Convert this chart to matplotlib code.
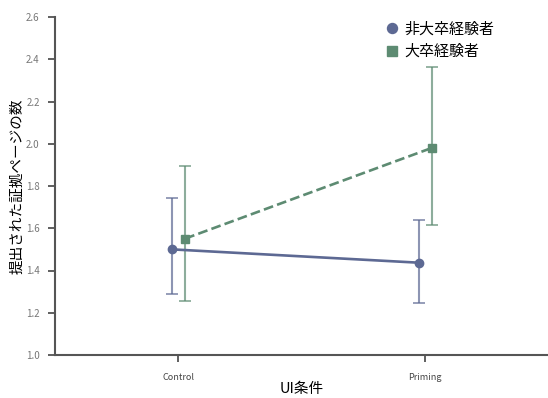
import numpy as np
import matplotlib
matplotlib.use("Agg")
import matplotlib.pyplot as plt

plt.rcParams['font.family'] = ['Noto Sans CJK JP', 'DejaVu Sans']

conditions = ["Control", "Priming"]
groups = ["非大卒経験者", "大卒経験者"]
means = {
    "非大卒経験者": [1.50, 1.437],
    "大卒経験者": [1.551, 1.98],
}
lower = {
    "非大卒経験者": [1.289, 1.248],
    "大卒経験者": [1.256, 1.614],
}
upper = {
    "非大卒経験者": [1.742, 1.640],
    "大卒経験者": [1.895, 2.363],
}

colors = {"非大卒経験者": "#5d6993", "大卒経験者": "#5d8b72"}
markers = {"非大卒経験者": "o", "大卒経験者": "s"}
styles = {"非大卒経験者": "-", "大卒経験者": "--"}
offsets = {"非大卒経験者": -0.025, "大卒経験者": 0.028}

fig = plt.figure(figsize=(5.48, 3.98), dpi=100)
ax = fig.add_axes([55 / 548, 43 / 398, 493 / 548, 338 / 398])

x = np.arange(len(conditions))
for g in groups:
    xs = x + offsets[g]
    m = np.array(means[g])
    err = [m - np.array(lower[g]), np.array(upper[g]) - m]
    ax.errorbar(xs, m, yerr=err, fmt="none", ecolor=colors[g], alpha=0.7,
                elinewidth=1.5, capsize=4, capthick=1.3, zorder=2)
    ax.plot(xs, m, linestyle=styles[g], color=colors[g], lw=1.9, zorder=3)
    ax.plot(xs, m, linestyle="none", marker=markers[g], color=colors[g],
            markersize=6, zorder=4, label=g)

ax.set_xlim(-0.5, 1.5)
ax.set_ylim(1.0, 2.6)
ax.set_xticks(x)
ax.set_xticklabels(conditions, fontsize=6.5, color="#444444")
ax.set_yticks(np.arange(1.0, 2.61, 0.2))
ax.set_yticklabels([f"{v:.1f}" for v in np.arange(1.0, 2.61, 0.2)], fontsize=7, color="#777777")
ax.tick_params(axis="both", length=5, width=1.2, color="#444444", pad=6)
ax.tick_params(axis="x", pad=8)
for s in ["top", "right"]:
    ax.spines[s].set_visible(False)
for s in ["left", "bottom"]:
    ax.spines[s].set_color("#555555")
    ax.spines[s].set_linewidth(1.5)

ax.set_xlabel("UI条件", fontsize=10.5, labelpad=0)
ax.set_ylabel("提出された証拠ページの数", fontsize=10.5, labelpad=1)

fig.legend(loc="upper left", frameon=False, fontsize=10.8, handletextpad=0.25,
           handlelength=1.2, borderaxespad=0, borderpad=0, labelspacing=0.55,
           markerscale=1.2, bbox_to_anchor=(383 / 548, 1 - 22 / 398))

fig.savefig("out.png", dpi=100)
